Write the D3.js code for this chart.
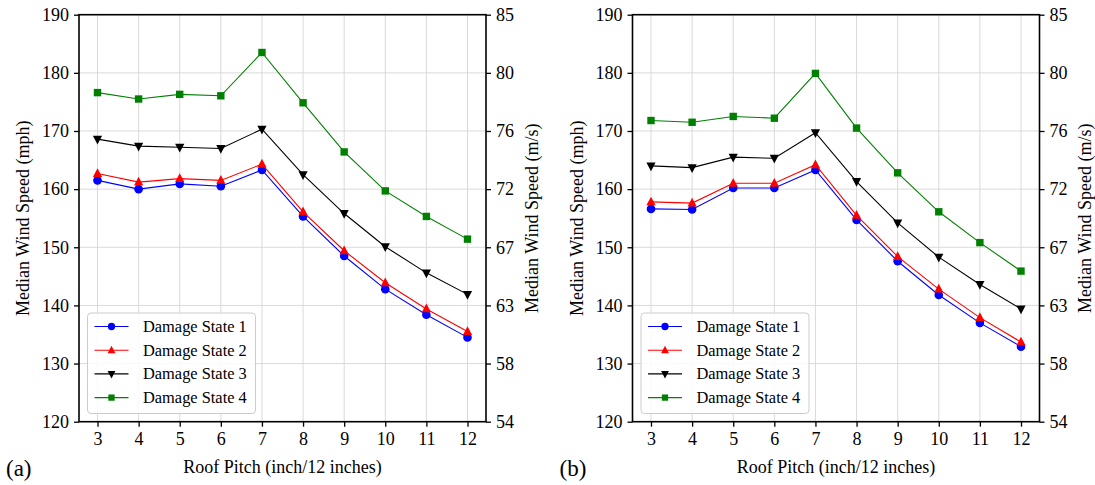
<!DOCTYPE html>
<html>
<head>
<meta charset="utf-8">
<script src="https://cdn.jsdelivr.net/npm/d3@7/dist/d3.min.js"></script>
<style>
  html, body { margin: 0; padding: 0; background: #fff; }
  svg, svg text { font-family: "Liberation Serif", "Times New Roman", Times, "Nimbus Roman", "Noto Serif", "DejaVu Serif", serif; }
</style>
</head>
<body>
<svg id="chart" width="1095" height="485"></svg>
<script>
// Roof pitch categories (inch per 12 inches)
const pitches = [3, 4, 5, 6, 7, 8, 9, 10, 11, 12];

// Panel (a): median wind speed in mph for each damage state
const a_ds1 = [161.5, 160.0, 160.9, 160.5, 163.3, 155.3, 148.5, 142.8, 138.4, 134.5];
const a_ds2 = [162.7, 161.2, 161.8, 161.5, 164.3, 156.1, 149.4, 143.9, 139.4, 135.5];
const a_ds3 = [168.6, 167.4, 167.2, 167.0, 170.3, 162.5, 155.8, 150.1, 145.6, 141.9];
const a_ds4 = [176.6, 175.5, 176.3, 176.05, 183.5, 174.85, 166.4, 159.7, 155.3, 151.4];

// Panel (b)
const b_ds1 = [156.6, 156.5, 160.2, 160.2, 163.3, 154.7, 147.6, 141.8, 137.0, 132.9];
const b_ds2 = [157.8, 157.6, 161.0, 161.0, 164.2, 155.5, 148.4, 142.8, 137.9, 133.7];
const b_ds3 = [164.0, 163.7, 165.5, 165.3, 169.7, 161.3, 154.2, 148.3, 143.6, 139.4];
const b_ds4 = [171.8, 171.5, 172.5, 172.2, 179.9, 170.5, 162.8, 156.1, 150.8, 145.9];

// Axis ticks
const mphTicks = [120, 130, 140, 150, 160, 170, 180, 190];
const msTickLabels = ["54", "58", "63", "67", "72", "76", "80", "85"];

const seriesNames = ["Damage State 1", "Damage State 2", "Damage State 3", "Damage State 4"];
const seriesColors = ["#0000ff", "#ff0000", "#000000", "#008000"];
const seriesMarkers = ["circle", "triangleUp", "triangleDown", "square"];

const panels = [
  { tag: "(a)", left: 79, series: [a_ds1, a_ds2, a_ds3, a_ds4] },
  { tag: "(b)", left: 632.5, series: [b_ds1, b_ds2, b_ds3, b_ds4] }
];

const FONT = '"Liberation Serif", "Times New Roman", Times, "Nimbus Roman", "Noto Serif", "DejaVu Serif", serif';
const svg = d3.select("#chart").attr("font-family", FONT);
const plotW = 407, plotTop = 14.7, plotBottom = 421.7;
const font = 18;

function markerPath(kind, s) {
  if (kind === "circle") return d3.symbol(d3.symbolCircle, Math.PI * s * s)();
  if (kind === "square") return `M${-s},${-s}H${s}V${s}H${-s}Z`;
  if (kind === "triangleUp") return `M0,${-s * 1.15}L${s},${s * 0.75}L${-s},${s * 0.75}Z`;
  return `M0,${s * 1.15}L${s},${-s * 0.75}L${-s},${-s * 0.75}Z`;
}
const markerSize = { circle: 4.3, square: 3.7, triangleUp: 4.6, triangleDown: 4.6 };

panels.forEach(p => {
  const g = svg.append("g").attr("transform", `translate(${p.left},0)`);
  const x = d3.scaleLinear().domain([2.55, 12.45]).range([0, plotW]);
  const y = d3.scaleLinear().domain([120, 190]).range([plotBottom, plotTop]);

  // grid
  const grid = g.append("g");
  grid.selectAll("line.gx").data(pitches).join("line")
    .attr("x1", d => x(d)).attr("x2", d => x(d))
    .attr("y1", plotTop).attr("y2", plotBottom)
    .attr("stroke", "#d6d6d6").attr("stroke-width", 0.9);
  grid.selectAll("line.gy").data(mphTicks).join("line")
    .attr("x1", 0).attr("x2", plotW)
    .attr("y1", d => y(d)).attr("y2", d => y(d))
    .attr("stroke", "#d6d6d6").attr("stroke-width", 0.9);

  // series
  p.series.forEach((vals, i) => {
    const pts = pitches.map((d, j) => [d, vals[j]]);
    g.append("path").datum(pts)
      .attr("fill", "none").attr("stroke", seriesColors[i]).attr("stroke-width", 1.1)
      .attr("d", d3.line().x(d => x(d[0])).y(d => y(d[1])));
    g.selectAll(null).data(pts).join("path")
      .attr("transform", d => `translate(${x(d[0])},${y(d[1])})`)
      .attr("d", markerPath(seriesMarkers[i], markerSize[seriesMarkers[i]]))
      .attr("fill", seriesColors[i]);
  });

  // axes
  const xAxis = d3.axisBottom(x).tickValues(pitches).tickSize(5).tickPadding(6).tickFormat(d3.format("d"));
  const yAxis = d3.axisLeft(y).tickValues(mphTicks).tickSize(5).tickPadding(5).tickFormat(d3.format("d"));
  const yAxisR = d3.axisRight(y).tickValues(mphTicks).tickSize(5).tickPadding(5)
    .tickFormat((d, i) => msTickLabels[i]);

  const styleAxis = sel => {
    sel.attr("font-family", FONT).attr("font-size", font);
    sel.select(".domain").remove();
    sel.selectAll(".tick line").attr("stroke", "#000").attr("stroke-width", 1.3);
    sel.selectAll(".tick text").attr("fill", "#000");
  };
  g.append("g").attr("transform", `translate(0,${plotBottom})`).call(xAxis).call(styleAxis);
  g.append("g").call(yAxis).call(styleAxis);
  g.append("g").attr("transform", `translate(${plotW},0)`).call(yAxisR).call(styleAxis);

  // frame
  g.append("rect").attr("x", 0).attr("y", plotTop).attr("width", plotW).attr("height", plotBottom - plotTop)
    .attr("fill", "none").attr("stroke", "#000").attr("stroke-width", 1.6);

  // axis titles
  g.append("text").attr("x", plotW / 2).attr("y", 473).attr("text-anchor", "middle")
    .attr("font-size", font).text("Roof Pitch (inch/12 inches)");
  g.append("text").attr("transform", `translate(-50,${(plotTop + plotBottom) / 2}) rotate(-90)`)
    .attr("text-anchor", "middle").attr("font-size", font).text("Median Wind Speed (mph)");
  g.append("text").attr("transform", `translate(${plotW + 51.5},${(plotTop + plotBottom) / 2}) rotate(-90)`)
    .attr("text-anchor", "middle").attr("font-size", font).text("Median Wind Speed (m/s)");

  // panel tag
  svg.append("text").attr("x", p.left - 73).attr("y", 476).attr("font-size", 23).text(p.tag);

  // legend
  const lg = g.append("g").attr("transform", "translate(8.5,313)");
  lg.append("rect").attr("width", 168).attr("height", 100.5).attr("rx", 3.5)
    .attr("fill", "#fff").attr("fill-opacity", 0.85).attr("stroke", "#cccccc").attr("stroke-width", 1);
  seriesNames.forEach((name, i) => {
    const ry = 13.5 + i * 23.7;
    lg.append("line").attr("x1", 7).attr("x2", 41).attr("y1", ry).attr("y2", ry)
      .attr("stroke", seriesColors[i]).attr("stroke-width", 1.1);
    lg.append("path").attr("transform", `translate(24,${ry})`)
      .attr("d", markerPath(seriesMarkers[i], markerSize[seriesMarkers[i]] * 0.85))
      .attr("fill", seriesColors[i]);
    lg.append("text").attr("x", 55.5).attr("y", ry).attr("dy", "0.34em")
      .attr("font-size", 16.4).text(name);
  });
});
</script>
</body>
</html>
